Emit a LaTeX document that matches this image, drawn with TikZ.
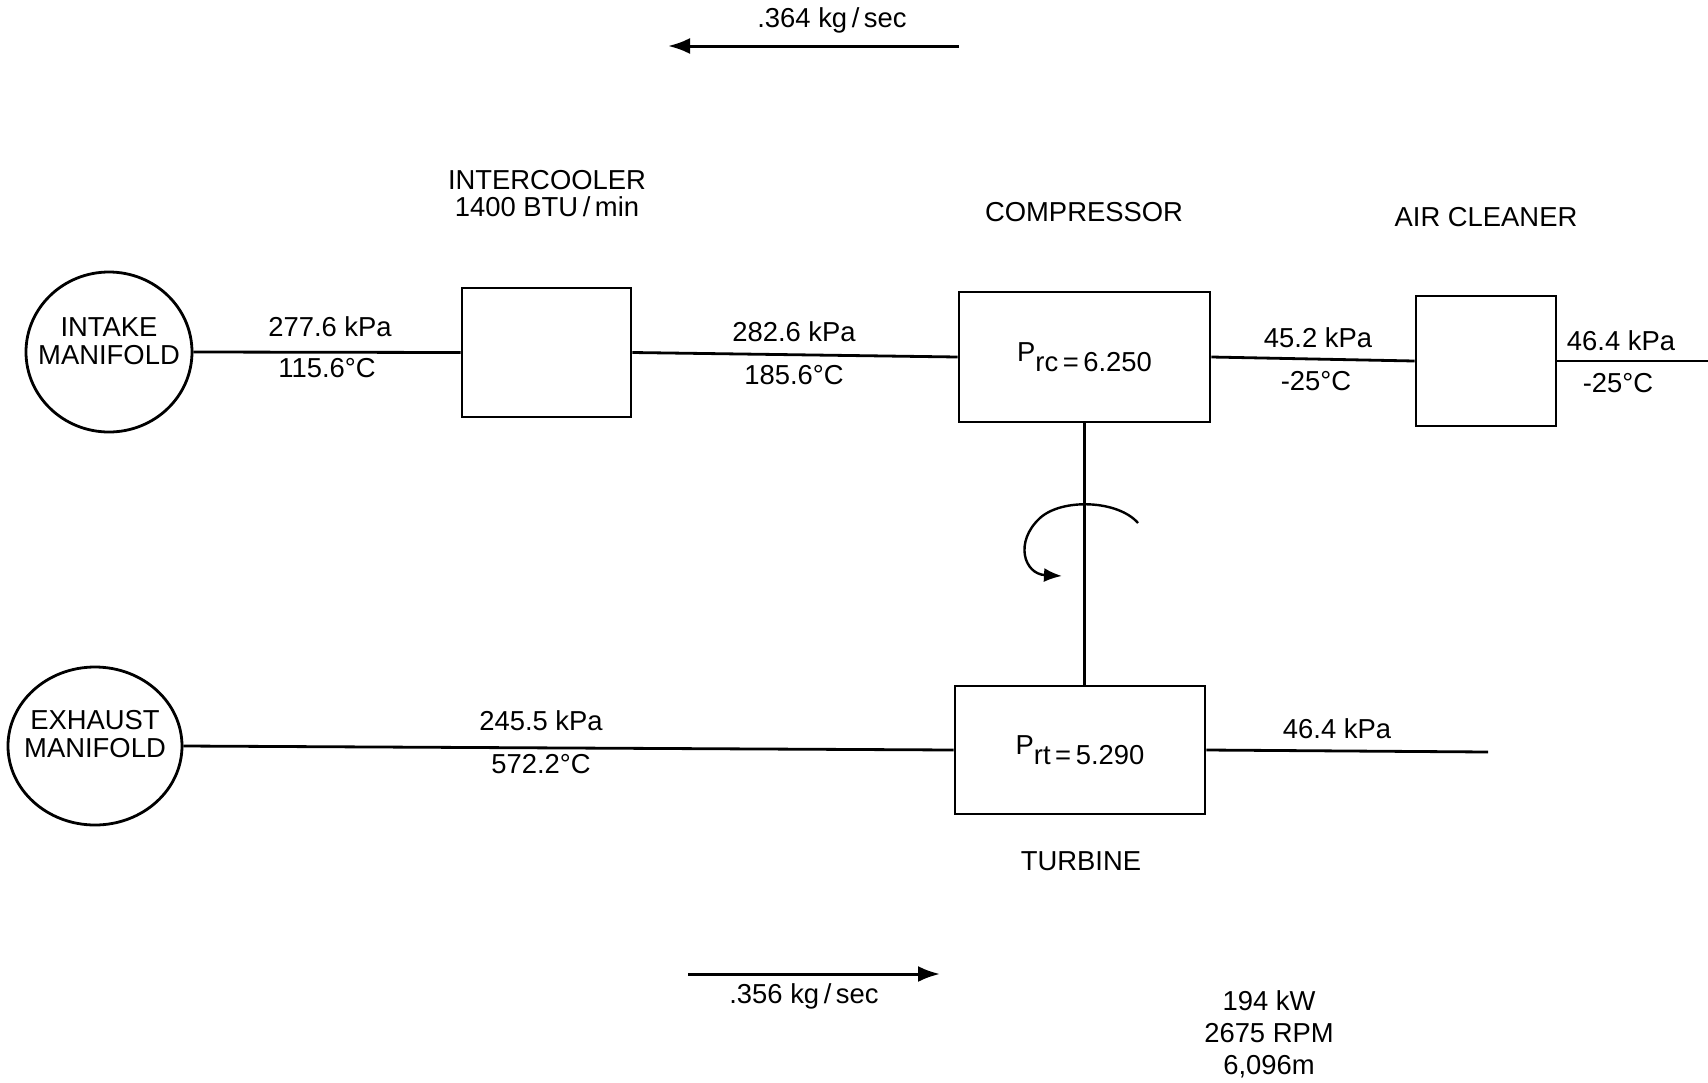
\documentclass[tikz,border=0pt]{standalone}
\usepackage{fontspec}
\setmainfont{Liberation Sans}
\usetikzlibrary{shapes.geometric,arrows.meta}
\begin{document}
\begin{tikzpicture}[x=0.5pt,y=-0.5pt,
  every node/.style={font=\fontsize{13.7pt}{15pt}\selectfont},
  ln/.style={line width=1.4pt},
  manifold/.style={draw,ellipse,line width=1.4pt,inner sep=0pt},
  unit/.style={draw,rectangle,line width=1.4pt,inner sep=0pt},
  lbl/.style={inner sep=0pt,align=center},
  flow/.style={line width=1.5pt,-{Latex[length=11pt,width=8pt]}}]
\useasboundingbox (0,0) rectangle (1708,1082);
% components
\node[manifold,minimum width=83pt,minimum height=80pt] (intake) at (109,352) {};
\node[lbl] (intakeT) at (109,341) {INTAKE\\[-1pt]MANIFOLD};
\node[unit,minimum width=84.5pt,minimum height=64.5pt] (ic) at (546.5,352.5) {};
\node[unit,minimum width=125.5pt,minimum height=65pt] (comp) at (1084.5,357) {\raisebox{.35em}{P}rc\,=\,6.250};
\node[unit,minimum width=70pt,minimum height=65pt] (air) at (1486,361) {};
\node[unit,minimum width=125pt,minimum height=64pt] (turb) at (1080,750) {\raisebox{.35em}{P}rt\,=\,5.290};
\node[manifold,minimum width=87pt,minimum height=79pt] (exh) at (95,746) {};
\node[lbl] (exhT) at (95,734) {EXHAUST\\[-1pt]MANIFOLD};
\coordinate (inlet) at (1708,361);
\coordinate (outlet) at (1488,752);
% titles
\node[lbl] (icT) at (547,194) {INTERCOOLER\\[-1.5pt]1400 BTU\,/\,min};
\node[lbl] (compT) at (1084,212) {COMPRESSOR};
\node[lbl] (airT) at (1486,217) {AIR CLEANER};
\node[lbl] (turbT) at (1081,861) {TURBINE};
% connectors
\draw[ln] (intake.east) -- (ic.west);
\draw[ln] (ic.east) -- (comp.west);
\draw[ln] (comp.east) -- (air.west);
\draw[ln] (air.east) -- (inlet);
\draw[ln] (exh.east) -- (turb.west);
\draw[ln] (turb.east) -- (outlet);
\draw[ln] (comp.south) -- (comp.south |- turb.north);
% line labels
\node[lbl] (l1a) at (330,327) {277.6 kPa};
\node[lbl] (l1b) at (327,368) {115.6°C};
\node[lbl] (l2a) at (794,332) {282.6 kPa};
\node[lbl] (l2b) at (794,375) {185.6°C};
\node[lbl] (l3a) at (1318,338) {45.2 kPa};
\node[lbl] (l3b) at (1316,381) {-25°C};
\node[lbl] (l4a) at (1621,341) {46.4 kPa};
\node[lbl] (l4b) at (1618,383) {-25°C};
\node[lbl] (l5a) at (541,721) {245.5 kPa};
\node[lbl] (l5b) at (541,764) {572.2°C};
\node[lbl] (l6a) at (1337,729) {46.4 kPa};
% rotation arrow
\draw[line width=1.2pt,-{Latex[length=9pt,width=7pt]}] (1138,523) .. controls (1118,500) and (1062,498) .. (1040,518) .. controls (1014,542) and (1024,574) .. (1062,576);
% flow arrows
\coordinate (fa1) at (959,46);
\coordinate (fa2) at (668,46);
\draw[flow] (fa1) -- (fa2);
\node[lbl] (f1) at (832,20) {.364 kg\,/\,sec};
\coordinate (fb1) at (688,974);
\coordinate (fb2) at (940,974);
\draw[flow] (fb1) -- (fb2);
\node[lbl] (f2) at (804,996) {.356 kg\,/\,sec};
\node[lbl] (perf) at (1269,1034) {194 kW\\[1pt]2675 RPM\\[1pt]6,096m};
\end{tikzpicture}
\end{document}
